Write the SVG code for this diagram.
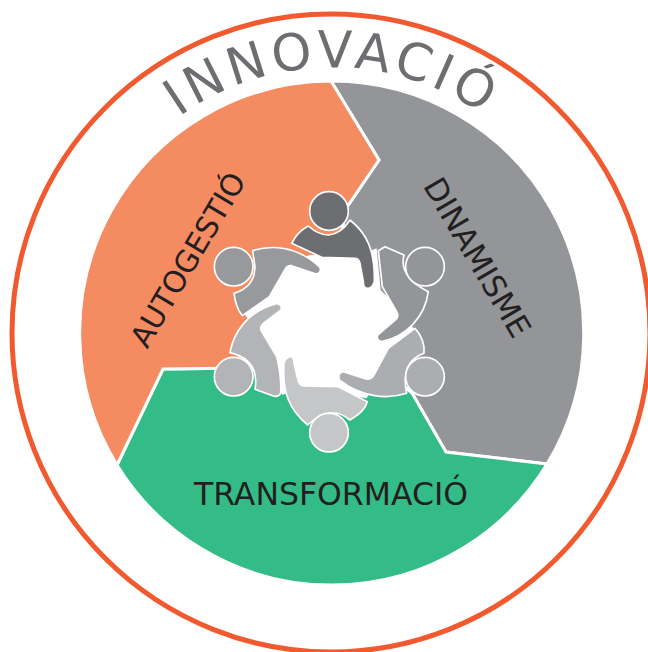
<svg xmlns="http://www.w3.org/2000/svg" width="648" height="652" viewBox="0 0 648 652">
<style>
text{font-family:"DejaVu Sans","Liberation Sans",sans-serif}
.lab{fill:#231f20;text-anchor:middle}
.sec{stroke:#fff;stroke-width:3;stroke-linejoin:miter}
.p path,.p circle{stroke:#fff;stroke-width:5;stroke-linejoin:round}
</style>
<defs><path id="arc2" d="M 112 187 A 263 263 0 0 1 553 187" fill="none"/></defs>
<rect width="648" height="652" fill="#fff"/>
<circle id="ring" cx="331" cy="333" r="319" fill="#fff" stroke="#f15a2e" stroke-width="5"/>
<g id="sectors">
<path id="gris" class="sec" d="M331 81 A252 252 0 0 1 547 464 L446 452 L412 393 L331 325 L345 210 L379 160 Z" fill="#939598"/>
<path id="verd" class="sec" d="M117 465 L163 369 L250 368 L331 325 L412 393 L446 452 L547 464 A252 252 0 0 1 117 465 Z" fill="#33bc87"/>
<path id="taronja" class="sec" d="M331 81 L379 160 L345 210 L331 325 L250 368 L163 369 L117 465 A252 252 0 0 1 331 81 Z" fill="#f58b60"/>
</g>
<text id="innovacio" font-size="51" fill="#6d6e71" letter-spacing="4.500" text-anchor="middle"><textPath href="#arc2" startOffset="50%">INNOVACIÓ</textPath></text>
<text class="lab" font-size="31.500" transform="translate(331 505)">TRANSFORMACIÓ</text>
<text class="lab" font-size="30" transform="translate(197 265) rotate(-59.500)">AUTOGESTIÓ</text>
<text class="lab" font-size="31" transform="translate(468 263) rotate(59.500)">DINAMISME</text>
<g transform="translate(210 180) scale(.33333)" class="p">
<polygon id="centre" fill="#fff" points="220,250 300,225 450,225 500,205 512,330 580,400 612,447 495,610 470,655 265,625 217,645 135,445 105,405"/>
<g id="persona1"><path fill="#6d6e71" d="M245 190 Q262 155 295 138 Q325 165 357 165 Q395 160 420 120 C470 160 495 210 493 305 Q485 328 470 325 Q460 322 460 305 L450 250 Q447 235 435 235 L335 232 L300 215 Z"/><circle cx="357" cy="93" r="58" fill="#6d6e71"/></g>
<g id="persona2"><path fill="#97999c" d="M128 212 C180 195 260 195 330 262 Q335 280 318 282 L245 257 Q232 255 225 268 L178 350 L97 407 Q78 385 72 340 Q135 320 135 260 Z"/><circle cx="71" cy="260" r="58" fill="#97999c"/></g>
<g id="persona3"><path fill="#939598" d="M505 212 L525 200 L582 225 Q565 290 655 335 C645 410 590 470 515 485 Q498 480 503 465 L558 418 Q568 408 560 395 L517 320 Z"/><circle cx="645" cy="260" r="58" fill="#939598"/></g>
<g id="persona4"><path fill="#acadb0" d="M615 445 C635 465 645 495 642 520 Q570 545 590 640 C530 660 450 650 388 600 Q382 578 400 575 L468 597 Q485 600 492 585 L535 505 Z"/><circle cx="645" cy="590" r="58" fill="#acadb0"/></g>
<g id="persona5"><path fill="#c5c6c8" d="M293 735 C240 690 215 640 222 548 Q230 528 245 530 Q252 535 252 550 L265 605 Q270 618 285 618 L385 620 L472 665 Q465 695 420 720 Q360 670 293 735 Z"/><circle cx="357" cy="758" r="58" fill="#c5c6c8"/></g>
<g id="persona6"><path fill="#b3b4b7" d="M60 518 C70 460 110 395 200 370 Q218 375 213 390 L158 432 Q148 442 155 455 L200 530 Q215 590 212 640 Q205 652 190 648 L135 628 Q150 540 60 518 Z"/><circle cx="71" cy="590" r="58" fill="#b3b4b7"/></g>
</g>
</svg>
